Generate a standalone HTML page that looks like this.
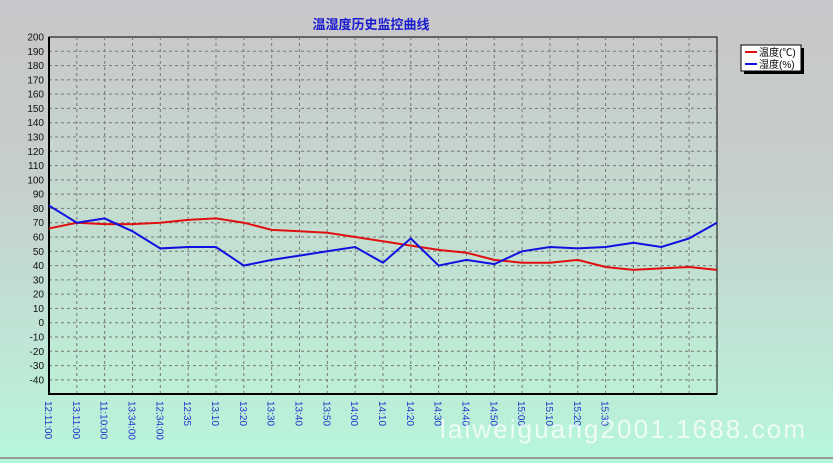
<!DOCTYPE html>
<html><head><meta charset="utf-8"><style>
html,body{margin:0;padding:0;}
body{width:833px;height:463px;overflow:hidden;background:linear-gradient(#c8c6ca 0%,#c6cfcc 40%,#bfe6d6 75%,#b6f7da 100%);font-family:"Liberation Sans","Noto Sans CJK SC",sans-serif;}
</style></head><body>
<svg width="833" height="463" xmlns="http://www.w3.org/2000/svg" style="position:absolute;left:0;top:0">
<defs><linearGradient id="pg" x1="0" y1="0" x2="0" y2="1"><stop offset="0" stop-color="#c9c9ca"/><stop offset="1" stop-color="#bdefd6"/></linearGradient></defs>
<text x="371" y="29" text-anchor="middle" font-size="13" font-weight="bold" fill="#1a1ad0" font-family="Liberation Sans,Noto Sans CJK SC,sans-serif">温湿度历史监控曲线</text>
<rect x="49" y="37" width="668" height="357" fill="url(#pg)" stroke="#000" stroke-width="1"/>
<g id="grid" stroke="#777" stroke-dasharray="3,3" stroke-width="1"></g>
<line x1="49" y1="37" x2="49" y2="395" stroke="#000" stroke-width="2"/>
<line x1="48" y1="394" x2="717" y2="394" stroke="#000" stroke-width="2"/>
<g id="ylab" font-size="10" fill="#111" text-anchor="end"></g>
<g id="xlab" font-size="10" fill="#2233cc"></g>
<polyline id="red" fill="none" stroke="#e01010" stroke-width="2"/>
<polyline id="blue" fill="none" stroke="#1010e0" stroke-width="2"/>
<rect x="744" y="48" width="60" height="26" fill="#000"/>
<rect x="741" y="45" width="60" height="26" fill="#fff" stroke="#000"/>
<line x1="745" y1="52" x2="757" y2="52" stroke="#e01010" stroke-width="2"/>
<line x1="745" y1="64" x2="757" y2="64" stroke="#1010e0" stroke-width="2"/>
<text x="759" y="56" font-size="10" fill="#000">温度(℃)</text>
<text x="759" y="68" font-size="10" fill="#000">湿度(%)</text>
<text x="440" y="438" font-size="26" fill="#ffffff" fill-opacity="0.75" textLength="365">laiweiguang2001.1688.com</text>
<line x1="0" y1="458" x2="833" y2="458" stroke="#999" stroke-width="2"/>
</svg>
<script>
var ns="http://www.w3.org/2000/svg";
function Y(v){return 37+(200-v)*1.4286;}
function X(i){return 49+i*27.83;}
var g=document.getElementById('grid'),yl=document.getElementById('ylab'),xl=document.getElementById('xlab');
for(var v=200;v>=-40;v-=10){var y=Y(v);
 if(v<200){var l=document.createElementNS(ns,'line');l.setAttribute('x1',49);l.setAttribute('x2',717);l.setAttribute('y1',y);l.setAttribute('y2',y);g.appendChild(l);}
 var t=document.createElementNS(ns,'text');t.setAttribute('x',44);t.setAttribute('y',y+3.5);t.textContent=v;yl.appendChild(t);}
for(var i=1;i<24;i++){var x=X(i),l=document.createElementNS(ns,'line');l.setAttribute('x1',x);l.setAttribute('x2',x);l.setAttribute('y1',37);l.setAttribute('y2',394);g.appendChild(l);}
var labs=["12:11:00","13:11:00","11:10:00","13:34:00","12:34:00","12:35","13:10","13:20","13:30","13:40","13:50","14:00","14:10","14:20","14:30","14:40","14:50","15:00","15:10","15:20","15:30"];
labs.forEach(function(s,i){var x=X(i)-4,t=document.createElementNS(ns,'text');t.setAttribute('transform','translate('+x+',401) rotate(90)');t.textContent=s;xl.appendChild(t);});
var r=[66,70,69,69,70,72,73,70,65,64,63,60,57,54,51,49,44,42,42,44,39,37,38,39,37];
var b=[82,70,73,64,52,53,53,40,44,47,50,53,42,59,40,44,41,50,53,52,53,56,53,59,70];
document.getElementById('red').setAttribute('points',r.map(function(v,i){return X(i)+','+Y(v)}).join(' '));
document.getElementById('blue').setAttribute('points',b.map(function(v,i){return X(i)+','+Y(v)}).join(' '));
</script>
</body></html>
